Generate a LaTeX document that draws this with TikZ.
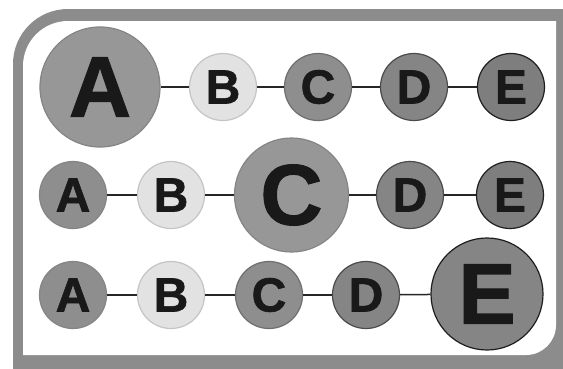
\documentclass[tikz,border=0pt]{standalone}
\usepackage{fontspec}
\setmainfont{Liberation Sans}
\newfontfamily\heavy{Liberation Sans Bold}[FakeBold=1.3]
\definecolor{framegray}{HTML}{8C8C8C}
\definecolor{cA}{HTML}{979797}
\definecolor{cAo}{HTML}{858585}
\definecolor{cB}{HTML}{E2E2E2}
\definecolor{cBo}{HTML}{C4C4C4}
\definecolor{cC}{HTML}{8E8E8E}
\definecolor{cCo}{HTML}{6E6E6E}
\definecolor{cD}{HTML}{858585}
\definecolor{cDo}{HTML}{4A4A4A}
\definecolor{cE}{HTML}{7E7E7E}
\definecolor{cEo}{HTML}{1E1E1E}
\begin{document}
\begin{tikzpicture}[x=1pt,y=-1pt,
  ball/.style={circle,inner sep=0pt,line width=1.2pt,text=black!90,font=\heavy\fontsize{48}{48}\selectfont},
  small/.style={ball,minimum size=67pt},
  big/.style={ball,font=\heavy\fontsize{86}{86}\selectfont},
  ba/.style={fill=cA,draw=cAo},
  bb/.style={fill=cB,draw=cBo},
  bc/.style={fill=cC,draw=cCo},
  bd/.style={fill=cD,draw=cDo},
  be/.style={fill=cE,draw=cEo},
  link/.style={line width=1.5pt,draw=black!85}]
\useasboundingbox (0,0) rectangle (563,368);
\fill[white] (0,0) rectangle (563,368);
% frame: outer gray shape, inner white panel
\fill[framegray] (13,380) -- (13,64) arc[start angle=180,end angle=90,radius=55pt] -- (580,9) -- (580,380) -- cycle;
\fill[white] (23,355) -- (23,66) arc[start angle=180,end angle=90,radius=45pt] -- (556,21) -- (556,325) arc[start angle=0,end angle=-90,radius=30pt] -- cycle;
% row 1
\node[big,ba,minimum size=120pt] (a1) at (100,87) {A};
\node[small,bb] (b1) at (223,87) {B};
\node[small,bc] (c1) at (318,87) {C};
\node[small,bd] (d1) at (414,87) {D};
\node[small,be] (e1) at (511,87) {E};
% row 2
\node[small,ba,fill=cC] (a2) at (73,195) {A};
\node[small,bb] (b2) at (171,195) {B};
\node[big,ba,minimum size=114pt] (c2) at (291.5,195) {C};
\node[small,bd] (d2) at (410,195) {D};
\node[small,be] (e2) at (510,195) {E};
% row 3
\node[small,ba,fill=cC] (a3) at (73,295) {A};
\node[small,bb] (b3) at (171,295) {B};
\node[small,bc] (c3) at (269,295) {C};
\node[small,bd] (d3) at (366,295) {D};
\node[big,be,fill=cD,minimum size=112pt] (e3) at (487,294) {E};
\foreach \r in {1,2,3}{
  \draw[link] (a\r) -- (b\r);
  \draw[link] (b\r) -- (c\r);
  \draw[link] (c\r) -- (d\r);
  \draw[link] (d\r) -- (e\r);
}
\end{tikzpicture}
\end{document}
